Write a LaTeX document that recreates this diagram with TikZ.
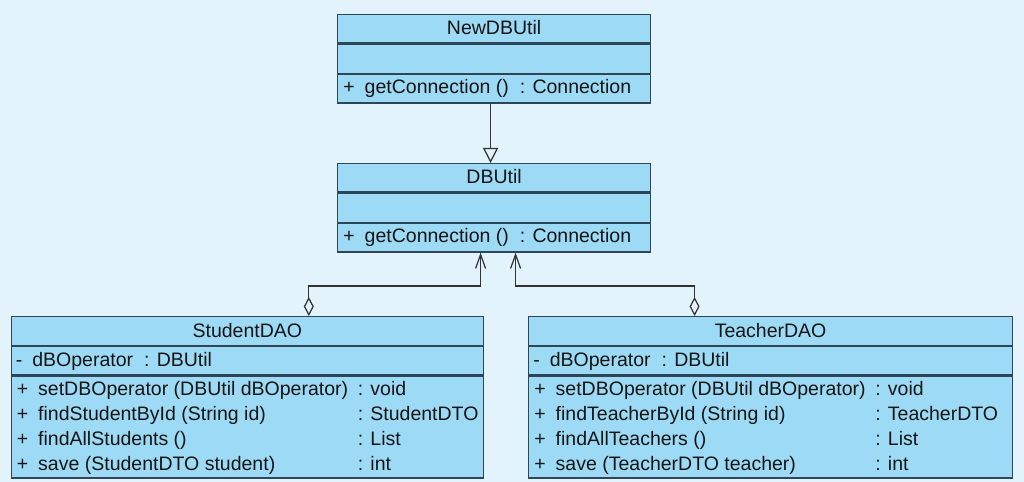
\documentclass[tikz,border=0pt]{standalone}
\usepackage{fontspec}
\setmainfont{Liberation Sans}
\usepackage{tikz}
\usetikzlibrary{arrows.meta,positioning}
\definecolor{umlbg}{HTML}{E2F3FC}
\definecolor{umlfill}{HTML}{9DDAF5}
\definecolor{umlline}{HTML}{2E4658}
\definecolor{umltext}{HTML}{151515}
\definecolor{umlwire}{HTML}{333333}

\newcommand{\umlfont}{\fontsize{11.1}{13}\selectfont}
\newcommand{\vis}[2]{#1\hspace{0.2cm}#2}
\newcommand{\colgap}{\hspace{0.22cm}}

\tikzset{
  cls/.style={draw=umlline, fill=umlfill, line width=0.7pt, inner sep=0pt,
    font=\umlfont, text=umltext, text height=0.3cm, text depth=0.06cm},
  row/.style={font=\umlfont, text=umltext, inner sep=0pt, anchor=base west},
  gen/.style={draw=umlwire, line width=0.7pt,
    -{Triangle[open, length=0.3cm, width=0.3cm]}},
  aggr/.style={draw=umlwire, line width=0.7pt,
    {Diamond[open, length=0.38cm, width=0.2cm]}-{Straight Barb[length=0.28cm, width=0.2cm]}},
}

\begin{document}
\begin{tikzpicture}[x=0.02cm, y=-0.02cm]
    % background
    \fill[umlbg] (0,0) rectangle (1024,482);
    \useasboundingbox (0,0) rectangle (1024,482);

    % NewDBUtil
    \node (nu) at (337,14) [cls, anchor=north west, minimum width=6.26cm, minimum height=0.57cm] {NewDBUtil};
    \node (nua) [cls, below=0pt of nu, minimum width=6.26cm, minimum height=0.58cm] {};
    \node (num) [cls, below=0pt of nua, minimum width=6.26cm, minimum height=0.57cm] {};
    \node (num1) at ([xshift=0.12cm, yshift=-0.4cm]num.north west) [row]
      {\vis{+}{getConnection ()\colgap: Connection}};

    % DBUtil
    \node (du) at (337,163) [cls, anchor=north west, minimum width=6.26cm, minimum height=0.57cm] {DBUtil};
    \node (dua) [cls, below=0pt of du, minimum width=6.26cm, minimum height=0.58cm] {};
    \node (dum) [cls, below=0pt of dua, minimum width=6.26cm, minimum height=0.57cm] {};
    \node (dum1) at ([xshift=0.12cm, yshift=-0.4cm]dum.north west) [row]
      {\vis{+}{getConnection ()\colgap: Connection}};

    % StudentDAO
    \node (st) at (10.5,316) [cls, anchor=north west, minimum width=9.45cm, minimum height=0.58cm] {StudentDAO};
    \node (sta) [cls, below=0pt of st, minimum width=9.45cm, minimum height=0.56cm] {};
    \node (stm) [cls, below=0pt of sta, minimum width=9.45cm, minimum height=2.04cm] {};
    \node (sta1) at ([xshift=0.1cm, yshift=-0.4cm]sta.north west) [row]
      {\vis{-}{dBOperator\colgap: DBUtil}};
    \foreach \meth/\ret [count=\k] in {{setDBOperator (DBUtil dBOperator)}/void,
        {findStudentById (String id)}/StudentDTO, {findAllStudents ()}/List,
        {save (StudentDTO student)}/int} {
      \node (stm\k) at ([xshift=0.12cm, yshift={-0.4cm-(\k-1)*0.5cm}]stm.north west) [row] {\vis{+}{\meth}};
      \node (str\k) at ([xshift=6.94cm, yshift={-0.4cm-(\k-1)*0.5cm}]stm.north west) [row] {: \ret};
    }

    % TeacherDAO
    \node (te) at (528,316) [cls, anchor=north west, minimum width=9.68cm, minimum height=0.58cm] {TeacherDAO};
    \node (tea) [cls, below=0pt of te, minimum width=9.68cm, minimum height=0.56cm] {};
    \node (tem) [cls, below=0pt of tea, minimum width=9.68cm, minimum height=2.04cm] {};
    \node (tea1) at ([xshift=0.1cm, yshift=-0.4cm]tea.north west) [row]
      {\vis{-}{dBOperator\colgap: DBUtil}};
    \foreach \meth/\ret [count=\k] in {{setDBOperator (DBUtil dBOperator)}/void,
        {findTeacherById (String id)}/TeacherDTO, {findAllTeachers ()}/List,
        {save (TeacherDTO teacher)}/int} {
      \node (tem\k) at ([xshift=0.12cm, yshift={-0.4cm-(\k-1)*0.5cm}]tem.north west) [row] {\vis{+}{\meth}};
      \node (ter\k) at ([xshift=6.94cm, yshift={-0.4cm-(\k-1)*0.5cm}]tem.north west) [row] {: \ret};
    }

    % connectors
    \draw[gen] ([xshift=-0.07cm]num.south) -- ([xshift=-0.07cm]du.north);
    \draw[aggr] ([xshift=1.23cm]st.north) -- ++(0,0.6cm) -| ([xshift=-0.27cm]dum.south);
    \draw[aggr] ([xshift=-1.52cm]te.north) -- ++(0,0.6cm) -| ([xshift=0.43cm]dum.south);
\end{tikzpicture}
\end{document}
